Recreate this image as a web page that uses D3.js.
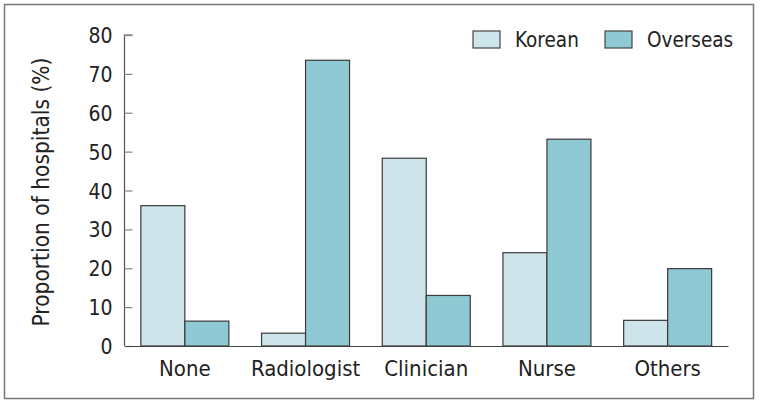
<!DOCTYPE html>
<html><head><meta charset="utf-8">
<script src="https://cdn.jsdelivr.net/npm/d3@7/dist/d3.min.js"></script>
<style>
body{margin:0;background:#fff;}
svg text{font-family:"DejaVu Sans Condensed","DejaVu Sans",sans-serif;font-stretch:condensed;fill:#222;}
</style></head>
<body><svg id="chart" width="761" height="405"></svg>
<script>
const categories = ["None", "Radiologist", "Clinician", "Nurse", "Others"];
const seriesNames = ["Korean", "Overseas"];
const korean = [36.1, 3.3, 48.3, 24.0, 6.6];
const overseas = [6.4, 73.5, 13.0, 53.2, 19.9];
const yTicks = [0, 10, 20, 30, 40, 50, 60, 70, 80];
const colors = ["#cde5ea", "#8fc9d4"];

const svg = d3.select("#chart");
svg.append("rect").attr("x", 4.5).attr("y", 4.5).attr("width", 749).attr("height", 394)
  .attr("fill", "#fff").attr("stroke", "#777").attr("stroke-width", 1.5);

const m = {left: 124.5, right: 728, top: 35, bottom: 346};
const x = d3.scaleBand().domain(categories).range([m.left, m.right]).paddingInner(0.271).paddingOuter(0.1355);
const xs = d3.scaleBand().domain(seriesNames).range([0, x.bandwidth()]);
const y = d3.scaleLinear().domain([0, 80]).range([m.bottom, m.top]);

const data = categories.map((c, i) => ({cat: c, vals: [korean[i], overseas[i]]}));

const g = svg.append("g");
g.selectAll("g.grp").data(data).join("g").attr("class", "grp")
  .attr("transform", d => `translate(${x(d.cat)},0)`)
  .selectAll("rect").data(d => d.vals.map((v, j) => ({s: seriesNames[j], v, j})))
  .join("rect")
  .attr("x", d => xs(d.s)).attr("width", xs.bandwidth())
  .attr("y", d => y(d.v)).attr("height", d => y(0) - y(d.v))
  .attr("fill", d => colors[d.j]).attr("stroke", "#3a3a3a").attr("stroke-width", 1.2);

// y axis
const yAxis = svg.append("g").attr("transform", `translate(${m.left},0)`)
  .call(d3.axisRight(y).tickValues(yTicks).tickSize(8).tickFormat(d3.format("d")));
yAxis.select(".domain").attr("stroke", "#555").attr("stroke-width", 1.2).attr("d", `M8,${m.top}H0V${m.bottom}`);
yAxis.selectAll(".tick line").attr("stroke", "#888").attr("stroke-width", 1.2);
yAxis.selectAll(".tick text").attr("x", -12).attr("text-anchor", "end")
  .style("font-size", "21px").attr("dy", "0.36em");

// x axis
const xAxis = svg.append("g").attr("transform", `translate(0,${m.bottom})`)
  .call(d3.axisBottom(x).tickSize(0));
xAxis.select(".domain").attr("stroke", "#444").attr("stroke-width", 1.2);
xAxis.selectAll(".tick text").attr("y", 14).attr("dy", "0.71em").style("font-size", "22px");

// y title
svg.append("text").attr("transform", `translate(49,192) rotate(-90)`)
  .attr("text-anchor", "middle").style("font-size", "22.5px").text("Proportion of hospitals (%)");

// legend
const legX = [473, 605];
const leg = svg.append("g").selectAll("g").data(seriesNames).join("g")
  .attr("transform", (d, i) => `translate(${legX[i]},31)`);
leg.append("rect").attr("width", 27).attr("height", 17)
  .attr("fill", (d, i) => colors[i]).attr("stroke", "#444").attr("stroke-width", 1.2);
leg.append("text").attr("x", 42).attr("y", 16).style("font-size", "20.5px").text(d => d);
</script></body></html>
